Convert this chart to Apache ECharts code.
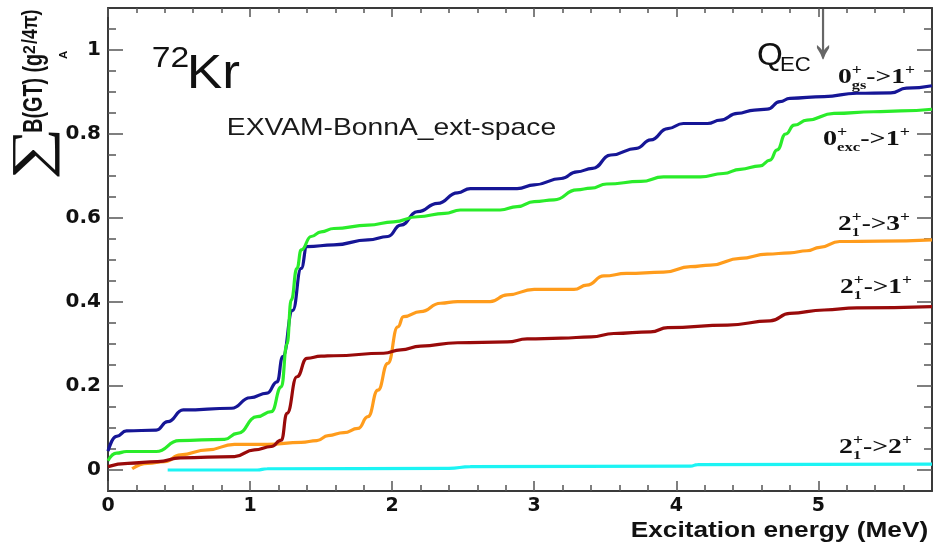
<!DOCTYPE html>
<html><head><meta charset="utf-8">
<script src="https://cdn.jsdelivr.net/npm/echarts@6/dist/echarts.min.js"></script>
<style>html,body{margin:0;padding:0;background:#fff}#c{width:934px;height:544px}</style>
</head><body><div id="c"></div>
<script>
// ---- tick values ----
const xMajor = [0, 1, 2, 3, 4, 5];
const xMinor = [0.2,0.4,0.6,0.8,1.2,1.4,1.6,1.8,2.2,2.4,2.6,2.8,3.2,3.4,3.6,3.8,4.2,4.4,4.6,4.8,5.2,5.4,5.6];
const yMajor = [0, 0.2, 0.4, 0.6, 0.8, 1];
const yMinor = [0.05,0.1,0.15,0.25,0.3,0.35,0.45,0.5,0.55,0.65,0.7,0.75,0.85,0.9,0.95,1.05];

// ---- series: 0+gs -> 1+ (blue) ----
const gsX = [0,0.06,0.13,0.34,0.42,0.53,0.87,1.0,1.12,1.19,1.23,1.30,1.36,1.40,1.59,1.83,1.97,2.06,2.18,2.32,2.46,2.55,2.88,3.0,3.19,3.30,3.41,3.54,3.72,3.82,3.94,4.05,4.22,4.31,4.43,4.55,4.64,4.73,4.80,5.04,5.27,5.51,5.62,5.80];
const gsY = [0.045,0.08,0.093,0.095,0.115,0.143,0.147,0.172,0.183,0.21,0.27,0.38,0.48,0.532,0.536,0.548,0.556,0.583,0.615,0.635,0.66,0.67,0.67,0.679,0.694,0.71,0.718,0.75,0.766,0.786,0.813,0.825,0.825,0.833,0.849,0.857,0.859,0.877,0.885,0.889,0.897,0.898,0.909,0.915];
// ---- 0+exc -> 1+ (green) ----
const excX = [0,0.06,0.13,0.34,0.50,0.82,0.91,1.05,1.15,1.22,1.26,1.29,1.33,1.36,1.43,1.50,1.59,1.83,2.01,2.18,2.37,2.48,2.76,2.88,3.0,3.14,3.30,3.40,3.51,3.75,3.91,4.17,4.33,4.45,4.59,4.66,4.71,4.77,4.83,4.92,5.11,5.39,5.58,5.80];
const excY = [0.022,0.04,0.044,0.044,0.07,0.073,0.087,0.127,0.139,0.198,0.30,0.405,0.48,0.524,0.556,0.567,0.575,0.583,0.591,0.603,0.611,0.619,0.619,0.627,0.639,0.643,0.667,0.671,0.681,0.687,0.698,0.698,0.706,0.716,0.724,0.738,0.762,0.80,0.821,0.833,0.849,0.853,0.855,0.859];
// ---- 2+1 -> 1+ (dark red) ----
const t11X = [0,0.14,0.35,0.51,0.89,1.03,1.15,1.22,1.26,1.33,1.40,1.50,1.59,1.94,2.06,2.20,2.46,2.81,2.95,3.19,3.40,3.56,3.82,3.94,4.36,4.66,4.80,5.04,5.27,5.80];
const t11Y = [0.008,0.016,0.02,0.029,0.032,0.048,0.056,0.071,0.135,0.222,0.266,0.271,0.272,0.278,0.286,0.295,0.303,0.305,0.312,0.314,0.317,0.325,0.329,0.339,0.345,0.355,0.373,0.381,0.386,0.389];
// ---- 2+1 -> 3+ (orange) ----
const t13X = [0.17,0.28,0.40,0.51,0.70,0.89,1.12,1.36,1.47,1.55,1.66,1.76,1.83,1.90,1.97,2.04,2.08,2.20,2.34,2.46,2.69,2.81,3.0,3.28,3.37,3.49,3.65,3.91,4.10,4.24,4.45,4.64,4.80,4.92,5.01,5.15,5.44,5.80];
const t13Y = [0.003,0.016,0.02,0.036,0.048,0.061,0.061,0.066,0.07,0.082,0.089,0.099,0.127,0.19,0.254,0.341,0.365,0.377,0.397,0.401,0.401,0.417,0.43,0.43,0.44,0.462,0.468,0.471,0.484,0.488,0.504,0.514,0.517,0.522,0.53,0.544,0.545,0.548];
// ---- 2+1 -> 2+ (cyan) ----
const t12X = [0.42,1.05,1.12,2.40,2.55,4.10,4.15,5.80];
const t12Y = [0.0,0.0,0.003,0.004,0.008,0.009,0.013,0.014];

// ---- text helpers ----
const cnv = document.createElement('canvas').getContext('2d');
function meas(text, font){ cnv.font = font; cnv.textBaseline = 'middle'; cnv.textAlign = 'left'; return cnv.measureText(text); }
function fitCap(text, family, weight, L, T, W, capH, fill){
  const h = meas('H', weight + ' 100px ' + family);
  const fs = 100 * capH / (h.actualBoundingBoxAscent + h.actualBoundingBoxDescent);
  const font = weight + ' ' + fs.toFixed(2) + 'px ' + family;
  const m = meas(text, font);
  const sx = W / (m.actualBoundingBoxLeft + m.actualBoundingBoxRight);
  const asc = meas('H', font).actualBoundingBoxAscent;
  return {type:'text', silent:true, x: L + m.actualBoundingBoxLeft * sx, y: T + asc, scaleX: sx,
    style:{text, font, fill: fill || '#111', align:'left', verticalAlign:'middle'}};
}
function fitBox(text, font, L, T, W, H, fill){
  const m = meas(text, font);
  const sx = W / (m.actualBoundingBoxLeft + m.actualBoundingBoxRight);
  const sy = H / (m.actualBoundingBoxAscent + m.actualBoundingBoxDescent);
  return {type:'text', silent:true, x: L + m.actualBoundingBoxLeft * sx, y: T + m.actualBoundingBoxAscent * sy, scaleX: sx, scaleY: sy,
    style:{text, font, fill: fill || '#111', align:'left', verticalAlign:'middle'}};
}
function stackLabel(x0, base, W, segs){
  const mainF = 'bold 22px "Liberation Serif"', supF = 'bold 14px "Liberation Serif"', subF = 'bold 13px "Liberation Serif"';
  const kids = []; let cx = 0;
  const put = (t, f, dy) => { const mo = meas('H', f).actualBoundingBoxDescent;
    kids.push({type:'text', silent:true, x: cx, y: dy - mo, style:{text:t, font:f, fill:'#111', align:'left', verticalAlign:'middle'}}); };
  segs.forEach(s => {
    if (s.m) { put(s.m, mainF, 0); cx += meas(s.m, mainF).width; }
    else { let w = 0;
      if (s.sup) { put(s.sup, supF, -9.5); w = Math.max(w, meas(s.sup, supF).width); }
      if (s.sub) { put(s.sub, subF, 6); w = Math.max(w, meas(s.sub, subF).width); }
      cx += w; }
  });
  return {type:'group', x: x0, y: base, scaleX: W / cx, children: kids};
}

const SANS = '"Liberation Sans"';
const graphics = [
  fitCap('72', SANS, 'normal', 153, 47, 35, 20),
  fitCap('Kr', SANS, 'normal', 190, 55, 50, 33),
  fitCap('EXVAM-BonnA_ext-space', SANS, 'normal', 228, 118, 327, 16, '#1a1a1a'),
  fitCap('Q', SANS, 'normal', 758, 43, 24, 21),
  fitCap('EC', SANS, 'normal', 781, 57, 29, 14),
  fitBox('↓', '60px "Liberation Sans"', 817, 8, 13, 52, '#666'),
  fitCap('Excitation energy (MeV)', SANS, 'bold', 632, 522, 296, 15),
  stackLabel(838, 83, 77, [{m:'0'},{sup:'+',sub:'gs'},{m:'->1'},{sup:'+'}]),
  stackLabel(823, 145, 87, [{m:'0'},{sup:'+',sub:'exc'},{m:'->1'},{sup:'+'}]),
  stackLabel(838, 230, 72, [{m:'2'},{sup:'+',sub:'1'},{m:'->3'},{sup:'+'}]),
  stackLabel(840, 293, 72, [{m:'2'},{sup:'+',sub:'1'},{m:'->1'},{sup:'+'}]),
  stackLabel(839, 453, 73, [{m:'2'},{sup:'+',sub:'1'},{m:'->2'},{sup:'+'}]),
  {type:'group', x: 43, y: 178, rotation: Math.PI / 2, children: [
    fitBox('∑', '40px "Liberation Serif"', 0, -31, 46, 48),
    fitCap('B(GT) (g', SANS, 'bold', 46, -20, 77, 19),
    fitCap('2', SANS, 'bold', 124, -20, 9, 11),
    fitCap('A', SANS, 'bold', 119, 16, 8, 8),
    fitCap('/4π)', SANS, 'bold', 134, -21, 34, 16)
  ]}
];

function axis(kind, pos, ticks, len, showLine, showLabel){
  const a = {type:'value', position: pos,
    min: kind === 'x' ? 0 : -0.05, max: kind === 'x' ? 5.8 : 1.1,
    axisLine:{show: showLine, onZero: false, lineStyle:{color:'#3a3a3a', width:2}},
    axisTick:{show:true, inside:true, length: len, customValues: ticks, lineStyle:{color:'#555', width:1.5}},
    axisLabel:{show:false}, splitLine:{show:false}, minorTick:{show:false}};
  if (showLabel) a.axisLabel = {show:true, customValues: ticks, margin: kind === 'x' ? 6 : 7,
    fontFamily:'DejaVu Sans', fontWeight:'bold', fontSize: kind === 'x' ? 19 : 20, color:'#111'};
  return a;
}
const mk = (name, xs, ys, color, w) => ({name, type:'line', data: xs.map((x, i) => [x, ys[i]]),
  showSymbol:false, smooth:0.5, smoothMonotone:'x', silent:true,
  lineStyle:{color, width:w}, itemStyle:{color}, xAxisIndex:0, yAxisIndex:0});

const chart = echarts.init(document.getElementById('c'));
chart.setOption({
  animation:false,
  backgroundColor:'#fff',
  grid:{left:108, right:2, top:8, bottom:53, containLabel:false, outerBoundsMode:'none'},
  xAxis:[axis('x','bottom',xMajor,10,true,true), axis('x','bottom',xMinor,6,false,false),
         axis('x','top',xMajor,9,true,false), axis('x','top',xMinor,5,false,false)],
  yAxis:[axis('y','left',yMajor,15,true,true), axis('y','left',yMinor,8,false,false),
         axis('y','right',yMajor,15,true,false), axis('y','right',yMinor,8,false,false)],
  series:[
    mk('2+1->2+', t12X, t12Y, '#1cf4f4', 3.2),
    mk('2+1->3+', t13X, t13Y, '#ff9c1c', 3.2),
    mk('2+1->1+', t11X, t11Y, '#990a0a', 3.2),
    mk('0+gs->1+', gsX, gsY, '#161696', 3.2),
    mk('0+exc->1+', excX, excY, '#2aec2a', 3.2)
  ],
  graphic: graphics
});
</script></body></html>
